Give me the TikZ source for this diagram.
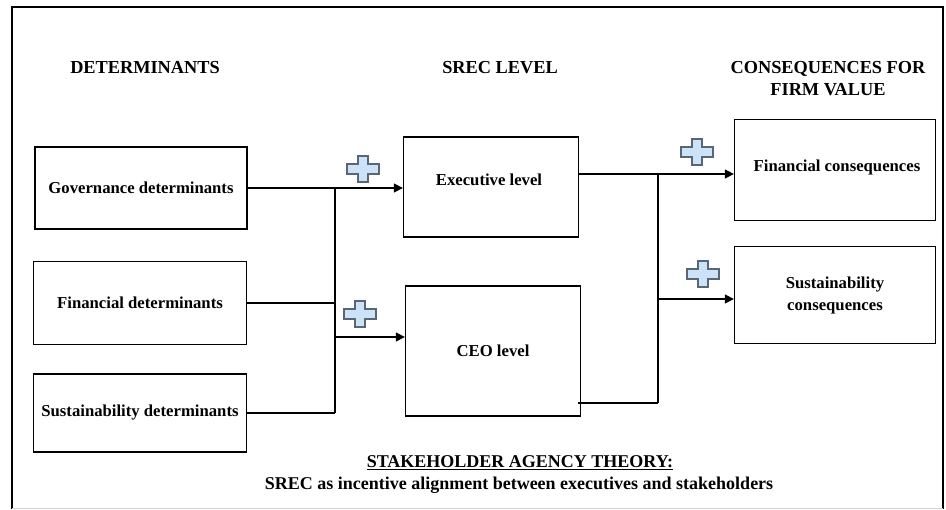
\documentclass[tikz,border=0pt]{standalone}
\usepackage{fontspec}
\setmainfont{Liberation Serif}
\usetikzlibrary{arrows.meta}
\definecolor{plusfill}{HTML}{CCE2F8}
\definecolor{plusedge}{HTML}{5A6676}
\tikzset{
  box/.style={draw, line width=1.3pt, rectangle, inner sep=0pt, align=center,
    font=\fontsize{16.7}{22}\selectfont\bfseries},
  head/.style={inner sep=0pt, align=center, font=\fontsize{18.3}{22}\selectfont\bfseries},
  foot/.style={inner sep=0pt, align=center, font=\fontsize{18}{21}\selectfont\bfseries},
  conn/.style={line width=1.3pt},
  arr/.style={conn, -{Triangle[length=9pt,width=9pt]}},
  plusicon/.style={fill=plusfill, draw=plusedge, line width=2pt, line join=miter},
  plus/.pic={\draw[plusicon] (-5,-13) -- (5,-13) -- (5,-5) -- (16,-5) -- (16,5) -- (5,5) -- (5,13) -- (-5,13) -- (-5,5) -- (-16,5) -- (-16,-5) -- (-5,-5) -- cycle;}
}
\begin{document}
\begin{tikzpicture}[x=1pt, y=-1pt]
\useasboundingbox (0,0) rectangle (946,510);
% frame
\draw[line width=1.5pt] (12,509) -- (12,7) -- (943,7) -- (943,509);
\draw[gray!35, line width=1pt] (12,509) -- (943,509);
% headings
\node[head] (h1) at (145,68) {DETERMINANTS};
\node[head] (h2) at (500,68) {SREC LEVEL};
\node[head] (h3) at (828,79) {CONSEQUENCES FOR\\FIRM VALUE};
% boxes
\node[box, minimum width=212pt, minimum height=82pt] (gov) at (141,188) {Governance determinants};
\node[box, minimum width=213pt, minimum height=83pt] (fin) at (140,303) {Financial determinants};
\node[box, minimum width=213pt, minimum height=78pt] (sus) at (140,413) {Sustainability determinants};
\node[box, minimum width=175pt, minimum height=100pt] (exe) at (491,187) {};
\node[box, draw=none] (exet) at (489,180) {Executive level};
\node[box, minimum width=175pt, minimum height=130pt] (ceo) at (493,351) {CEO level};
\node[box, minimum width=201pt, minimum height=101pt] (fc) at (835,170) {};
\node[box, draw=none] (fct) at (837,167) {Financial consequences};
\node[box, minimum width=201pt, minimum height=97pt] (sc) at (835,295) {Sustainability\\consequences};
% coordinates
\coordinate (j1) at (335,188);
\coordinate (j1b) at (335,413);
\coordinate (j1c) at (335,337);
\coordinate (e1) at (579,174);
\coordinate (j2) at (658,174);
\coordinate (c1) at (578,403);
\coordinate (j2b) at (658,403);
\coordinate (j2c) at (658,299);
% connectors
\draw[arr] (gov.east) -- (gov.east -| exe.west);
\draw[conn] (j1) -- (j1b);
\draw[conn] (fin.east) -- (fin.east -| j1);
\draw[conn] (sus.east) -- (j1b);
\draw[arr] (j1c) -- (j1c -| ceo.west);
\draw[arr] (e1) -- (e1 -| fc.west);
\draw[conn] (j2) -- (j2b);
\draw[conn] (c1) -- (j2b);
\draw[arr] (j2c) -- (j2c -| sc.west);
% plus icons
\pic at (363,169) {plus};
\pic at (360,314) {plus};
\pic at (697,152) {plus};
\pic at (703,274) {plus};
% footer
\node[foot] (f1) at (520,463) {\underline{STAKEHOLDER AGENCY THEORY:}};
\node[foot] (f2) at (519,485) {SREC as incentive alignment between executives and stakeholders};
\end{tikzpicture}
\end{document}
